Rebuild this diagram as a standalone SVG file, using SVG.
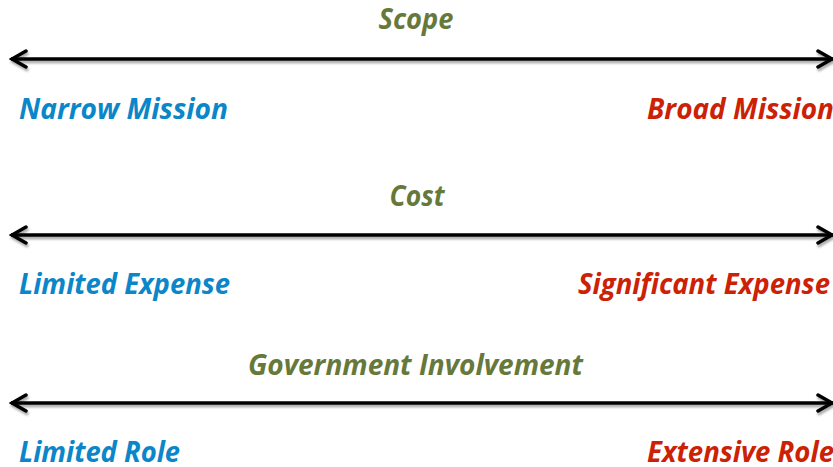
<svg xmlns="http://www.w3.org/2000/svg" width="833" height="467" viewBox="0 0 833 467">
  <style>
    .lbl { font-family: "Open Sans", "Liberation Sans", sans-serif; font-weight: bold; font-style: italic; font-size: 28px; }
    .title { fill: #66793A; }
    .low { fill: #0A86C9; }
    .high { fill: #CC2104; }
    .axis { stroke: #000; stroke-width: 3.5; fill: none; marker-start: url(#head); marker-end: url(#head); }
  </style>
  <defs>
    <marker id="head" markerUnits="userSpaceOnUse" viewBox="-18 -11 20 22" refX="0" refY="0" markerWidth="20" markerHeight="22" orient="auto-start-reverse">
      <path d="M-15,-8 L-1,0 L-15,8" fill="none" stroke="#000" stroke-width="3.5" stroke-linecap="round" stroke-linejoin="miter"/>
    </marker>
    <filter id="shade" filterUnits="userSpaceOnUse" x="0" y="0" width="833" height="467">
      <feDropShadow dx="1" dy="2.5" stdDeviation="1.2" flood-color="#000" flood-opacity="0.35"/>
    </filter>
  </defs>

  <!-- double-headed scales -->
  <g id="connectors" filter="url(#shade)">
    <line class="axis" x1="11" y1="59" x2="833" y2="59"/>
    <line class="axis" x1="11" y1="235" x2="833" y2="235"/>
    <line class="axis" x1="11" y1="403" x2="833" y2="403"/>
  </g>

  <g id="scope">
    <text class="lbl title" x="416" y="29" text-anchor="middle" textLength="75" lengthAdjust="spacingAndGlyphs">Scope</text>
    <text class="lbl low" x="19" y="119" textLength="209" lengthAdjust="spacingAndGlyphs">Narrow Mission</text>
    <text class="lbl high" x="647" y="119" textLength="187" lengthAdjust="spacingAndGlyphs">Broad Mission</text>
  </g>

  <g id="cost">
    <text class="lbl title" x="417" y="206" text-anchor="middle" textLength="55" lengthAdjust="spacingAndGlyphs">Cost</text>
    <text class="lbl low" x="19" y="294" textLength="211" lengthAdjust="spacingAndGlyphs">Limited Expense</text>
    <text class="lbl high" x="578" y="294" textLength="252" lengthAdjust="spacingAndGlyphs">Significant Expense</text>
  </g>

  <g id="government">
    <text class="lbl title" x="248" y="375" textLength="335" lengthAdjust="spacingAndGlyphs">Government Involvement</text>
    <text class="lbl low" x="19" y="462" textLength="161" lengthAdjust="spacingAndGlyphs">Limited Role</text>
    <text class="lbl high" x="647" y="462" textLength="187" lengthAdjust="spacingAndGlyphs">Extensive Role</text>
  </g>
</svg>
